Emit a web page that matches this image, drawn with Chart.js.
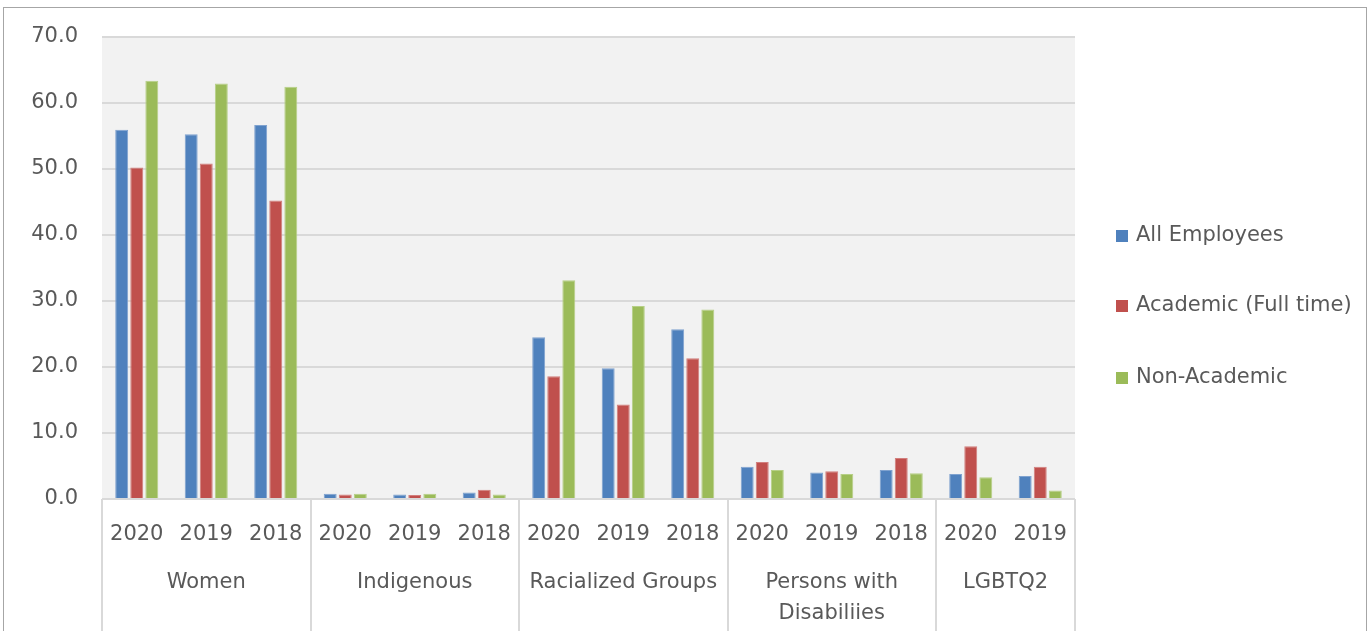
<!DOCTYPE html>
<html>
<head>
<meta charset="utf-8">
<script src="https://cdn.jsdelivr.net/npm/chart.js@4.4.0/dist/chart.umd.min.js"></script>
<style>
  html, body { margin: 0; padding: 0; background: #ffffff; }
  #wrap { position: relative; width: 1370px; height: 631px; overflow: hidden; }
  #c { position: absolute; left: 0; top: 0; }
  #frame { position: absolute; left: 3px; top: 7px; width: 1362px; height: 640px; border: 1px solid #a6a6a6; pointer-events: none; }
</style>
</head>
<body>
<div id="wrap">
  <canvas id="c" width="1370" height="631"></canvas>
  <div id="frame"></div>
</div>
<script>
const years = ['2020','2019','2018','2020','2019','2018','2020','2019','2018','2020','2019','2018','2020','2019'];
const groupNames = ['Women', 'Indigenous', 'Racialized Groups', ['Persons with', 'Disabiliies'], 'LGBTQ2'];
const groupSizes = [3, 3, 3, 3, 2];
const seriesNames = ['All Employees', 'Academic (Full time)', 'Non-Academic'];
const allEmployees = [55.9, 55.2, 56.6, 0.8, 0.7, 1.0, 24.5, 19.8, 25.7, 4.9, 4.0, 4.4, 3.8, 3.5];
const academicFullTime = [50.2, 50.8, 45.2, 0.7, 0.6, 1.4, 18.6, 14.3, 21.3, 5.6, 4.2, 6.2, 8.0, 4.9];
const nonAcademic = [63.3, 62.9, 62.4, 0.8, 0.8, 0.7, 33.1, 29.2, 28.7, 4.4, 3.8, 3.9, 3.3, 1.3];
const yTicks = [0, 10, 20, 30, 40, 50, 60, 70];

const colors = ['#4f81bd', '#c0504d', '#9bbb59'];
const borders = ['#7fa2cf', '#d27f7d', '#b6cf86'];
const FONT = '"DejaVu Sans", "Noto Sans", sans-serif';
const FSIZE = 21;
const TXT = '#595959';

const bgPlugin = {
  id: 'plotBg',
  beforeDraw(chart) {
    const { ctx, chartArea: a } = chart;
    ctx.save();
    ctx.fillStyle = '#f2f2f2';
    ctx.fillRect(a.left, a.top, a.right - a.left, a.bottom - a.top);
    ctx.restore();
  }
};

const groupAxisPlugin = {
  id: 'groupAxis',
  afterDraw(chart) {
    const { ctx, chartArea: a } = chart;
    const xs = chart.scales.x;
    const n = years.length;
    const step = (a.right - a.left) / n;
    ctx.save();
    ctx.strokeStyle = '#d9d9d9';
    ctx.lineWidth = 2;
    let idx = 0;
    const bounds = [idx];
    groupSizes.forEach(s => { idx += s; bounds.push(idx); });
    bounds.forEach(b => {
      const x = Math.round(xs.getPixelForValue(Math.min(b, n - 1)) + (b >= n ? step / 2 : -step / 2));
      ctx.beginPath();
      ctx.moveTo(x, a.bottom);
      ctx.lineTo(x, chart.height);
      ctx.stroke();
    });
    ctx.fillStyle = TXT;
    ctx.font = FSIZE + 'px ' + FONT;
    ctx.textAlign = 'center';
    ctx.textBaseline = 'middle';
    let start = 0;
    groupSizes.forEach((s, gi) => {
      const x0 = xs.getPixelForValue(start) - step / 2;
      const x1 = xs.getPixelForValue(start + s - 1) + step / 2;
      const cx = (x0 + x1) / 2;
      const name = groupNames[gi];
      const lines = Array.isArray(name) ? name : [name];
      lines.forEach((ln, li) => ctx.fillText(ln, cx, 583 + li * 31));
      start += s;
    });
    // legend
    chart.data.datasets.forEach((ds, i) => {
      const y = [236, 306, 378][i];
      ctx.fillStyle = ds.backgroundColor;
      ctx.fillRect(1116, y - 6, 12, 12);
      ctx.fillStyle = TXT;
      ctx.textAlign = 'left';
      ctx.fillText(ds.label, 1136, y);
    });
    ctx.restore();
  }
};

new Chart(document.getElementById('c'), {
  type: 'bar',
  data: {
    labels: years,
    datasets: [
      { label: seriesNames[0], data: allEmployees, backgroundColor: colors[0], borderColor: borders[0], borderWidth: 1 },
      { label: seriesNames[1], data: academicFullTime, backgroundColor: colors[1], borderColor: borders[1], borderWidth: 1 },
      { label: seriesNames[2], data: nonAcademic, backgroundColor: colors[2], borderColor: borders[2], borderWidth: 1 }
    ]
  },
  options: {
    responsive: false,
    devicePixelRatio: 1,
    animation: false,
    layout: { padding: { top: 36, right: 295, left: 0, bottom: 0 } },
    datasets: { bar: { categoryPercentage: 0.65, barPercentage: 0.86 } },
    plugins: { legend: { display: false }, tooltip: { enabled: false } },
    scales: {
      x: {
        grid: { display: false, drawTicks: false },
        border: { display: false },
        ticks: { color: TXT, font: { family: FONT, size: FSIZE }, padding: 23, maxRotation: 0, autoSkip: false },
        afterFit(s) { s.height = 132; }
      },
      y: {
        min: 0, max: 70,
        afterBuildTicks(s) { s.ticks = yTicks.map(v => ({ value: v })); },
        grid: { color: '#d9d9d9', lineWidth: 2, drawTicks: false },
        border: { display: false },
        ticks: { color: TXT, font: { family: FONT, size: FSIZE }, padding: 24, callback: v => Number(v).toFixed(1) },
        afterFit(s) { s.width = 102; }
      }
    }
  },
  plugins: [bgPlugin, groupAxisPlugin]
});
</script>
</body>
</html>
